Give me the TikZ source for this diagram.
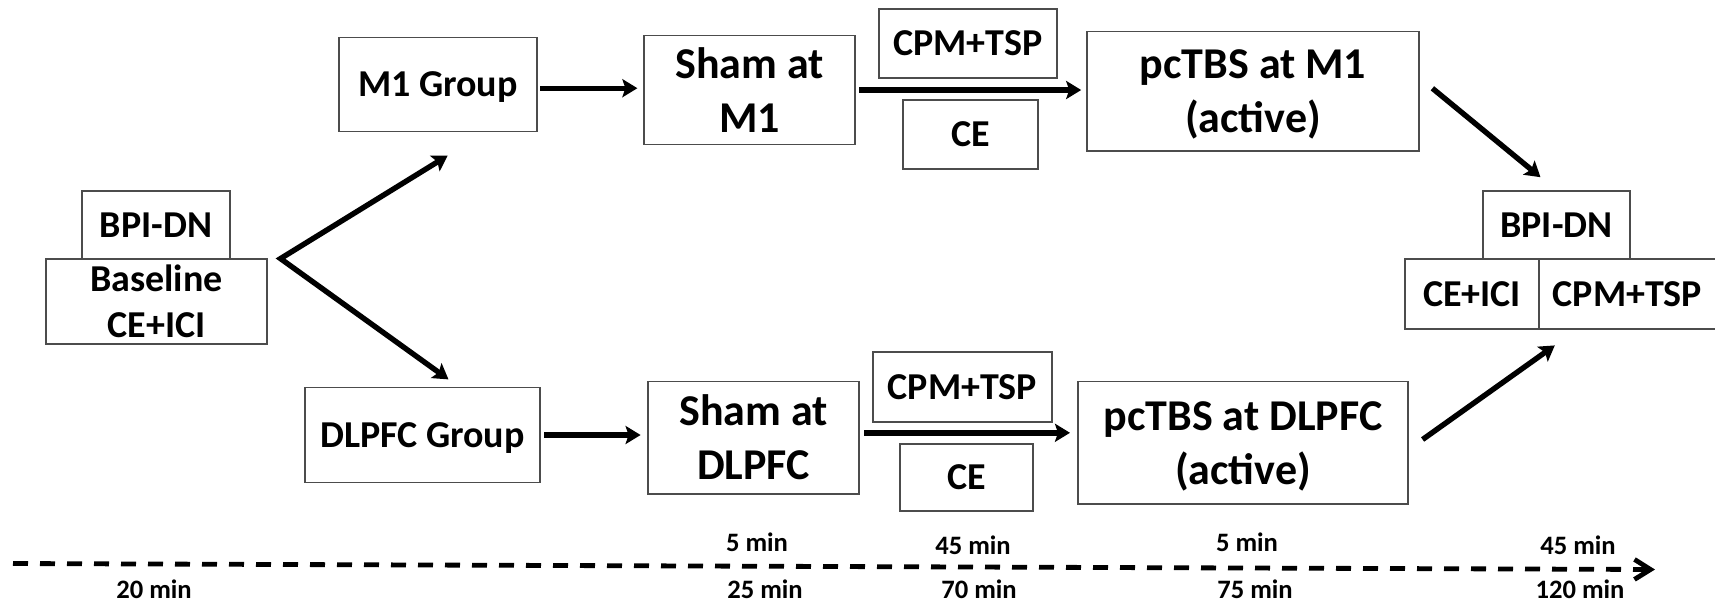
\documentclass[tikz,border=0pt]{standalone}
\usepackage{fontspec}
\setmainfont{Carlito}
\usetikzlibrary{arrows.meta}
\colorlet{BoxLine}{black!70}

\begin{document}
\begin{tikzpicture}[x=0.5pt,y=-0.5pt,line join=miter,
  >={Stealth[length=7.5pt,width=9pt,inset=1.5pt]},
  box/.style={draw=BoxLine,line width=0.8pt,inner sep=0pt,align=center,text depth=0pt,
    font=\bfseries\fontsize{19}{23}\selectfont},
  bigbox/.style={box,font=\bfseries\fontsize{22}{27}\selectfont},
  arr/.style={line width=2.7pt,->},
  tline/.style={line width=2.4pt,dash pattern=on 7.5pt off 6pt,
    -{Straight Barb[length=8pt,width=10pt]}},
  tlabel/.style={inner sep=0pt,text depth=0pt,font=\bfseries\fontsize{13.3}{16}\selectfont}]
  \useasboundingbox (0,0) rectangle (1715,607);
  % baseline
  \node[box,minimum width=74pt,minimum height=33.9pt] (bpiL) at (156,225.1) {BPI-DN};
  \node[box,minimum width=110.5pt,minimum height=42.5pt] (base) at (156.5,301.5) {Baseline\\CE+ICI};
  % groups
  \node[box,minimum width=99pt,minimum height=47pt] (m1g) at (438,84.5) {M1 Group};
  \node[box,minimum width=117.5pt,minimum height=47.5pt] (dlg) at (422.5,435) {DLPFC Group};
  % M1 arm
  \node[bigbox,minimum width=105.5pt,minimum height=54.6pt] (shamM) at (749.5,90) {Sham at\\M1};
  \node[box,minimum width=89pt,minimum height=34.4pt] (cpmT) at (968,43.5) {CPM+TSP};
  \node[box,minimum width=67.5pt,minimum height=34.4pt] (ceT) at (970.5,134.5) {CE};
  \node[bigbox,minimum width=166pt,minimum height=59.7pt] (pcM) at (1253,91) {pcTBS at M1\\(active)};
  % DLPFC arm
  \node[bigbox,minimum width=105.5pt,minimum height=56.2pt] (shamD) at (753.5,437.5) {Sham at\\DLPFC};
  \node[box,minimum width=89.5pt,minimum height=34.9pt] (cpmB) at (962.5,387) {CPM+TSP};
  \node[box,minimum width=66.5pt,minimum height=33.4pt] (ceB) at (966.5,477.5) {CE};
  \node[bigbox,minimum width=165pt,minimum height=61.2pt] (pcD) at (1243,442.6) {pcTBS at DLPFC\\(active)};
  % follow-up
  \node[box,minimum width=73.5pt,minimum height=33.9pt] (bpiR) at (1556.5,225.1) {BPI-DN};
  \node[box,minimum width=67pt,minimum height=34.9pt] (ceiR) at (1472,293.9) {CE+ICI};
  \node[box,minimum width=88.5pt,minimum height=34.9pt] (cpmR) at (1627.5,293.9) {CPM+TSP};

  \coordinate (fork) at (280.5,258.6);
  \coordinate (forkU) at (447.7,155.6);
  \coordinate (forkD) at (448.5,379.4);
  \draw[arr,<->] (forkU) -- (fork) -- (forkD);

  \draw[arr,shorten <=1.2pt,shorten >=2.9pt] ([yshift=-1.85pt]m1g.east) -- ([yshift=-1.85pt]m1g.east -| shamM.west);
  \draw[arr,shorten <=1.7pt,shorten >=2.5pt] (shamM.east) -- (shamM.east -| pcM.west);
  \draw[arr,shorten <=1.7pt,shorten >=3.3pt] (dlg.east) -- (dlg.east -| shamD.west);
  \draw[arr,shorten <=2.2pt,shorten >=3.6pt] ([yshift=2.35pt]shamD.east) -- ([yshift=2.35pt]shamD.east -| pcD.west);
  \draw[arr] ([xshift=6.3pt,yshift=1.35pt]pcM.east) -- ([xshift=-8pt,yshift=6.6pt]bpiR.north);
  \draw[arr] ([xshift=6.9pt,yshift=1.55pt]pcD.east) -- ([xshift=7.5pt,yshift=-7.9pt]ceiR.south east);

  % time line
  \coordinate (tS) at (13,563.5);
  \coordinate (tE) at (1655,569.5);
  \draw[tline] (tS) -- (tE);
  \node[tlabel] (t20) at (154,589) {20 min};
  \node[tlabel] (tA1) at (757,542.2) {5 min};
  \node[tlabel] (tB1) at (765,589) {25 min};
  \node[tlabel] (tA2) at (973,545.3) {45 min};
  \node[tlabel] (tB2) at (979,589) {70 min};
  \node[tlabel] (tA3) at (1247,542.2) {5 min};
  \node[tlabel] (tB3) at (1255,589) {75 min};
  \node[tlabel] (tA4) at (1578,545.3) {45 min};
  \node[tlabel] (tB4) at (1580,589) {120 min};
\end{tikzpicture}
\end{document}
